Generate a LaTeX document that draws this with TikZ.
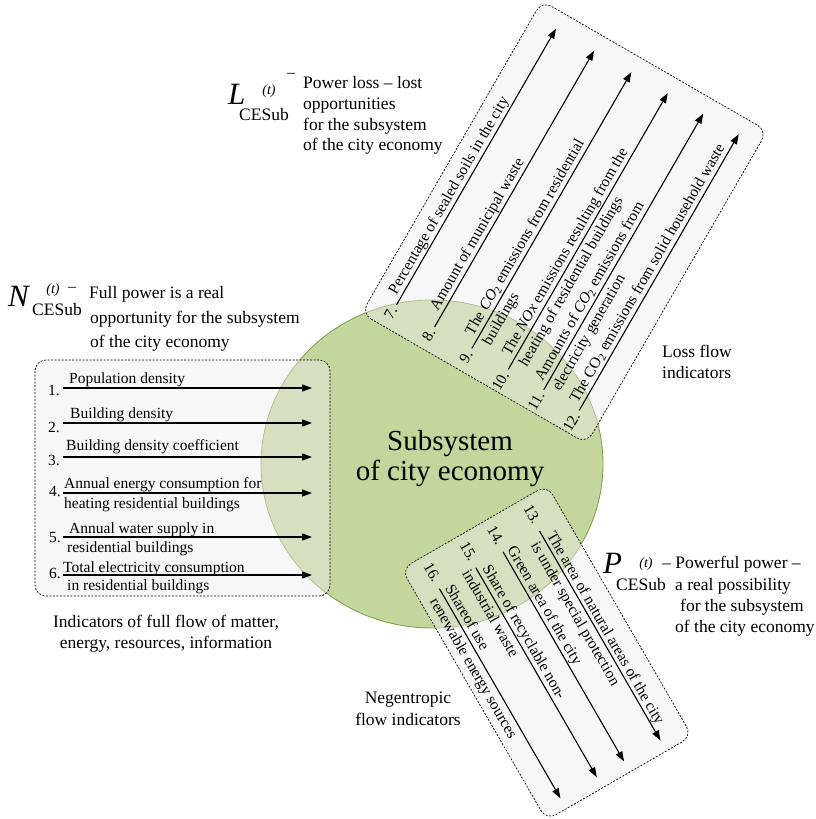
\documentclass[tikz,border=0pt]{standalone}
\usepackage{fontspec}
\setmainfont{Liberation Serif}
\usetikzlibrary{arrows.meta}
\definecolor{circfill}{HTML}{C3D69B}
\definecolor{circdraw}{HTML}{7E9A4A}
\definecolor{boxfill}{HTML}{EEEEEE}
\tikzset{
  flowbox/.style={draw=black, dash pattern=on 2pt off 1.5pt, line width=0.7pt,
    rounded corners=11pt, fill=boxfill, fill opacity=0.45},
  flowarrow/.style={-{Triangle[length=10pt,width=7pt]}, line width=1.1pt},
  lbl/.style={font=\fontsize{15.5}{18}\selectfont, inner sep=0pt, anchor=base west},
  num/.style={font=\fontsize{15.5}{18}\selectfont, inner sep=0pt, anchor=base east},
  big/.style={font=\fontsize{17.5}{21}\selectfont, inner sep=0pt, anchor=base west},
  bigc/.style={font=\fontsize{17.5}{21}\selectfont, inner sep=0pt, anchor=base},
  letter/.style={font=\fontsize{31}{34}\selectfont\itshape, inner sep=0pt, anchor=base west},
  supt/.style={font=\fontsize{14}{16}\selectfont\itshape, inner sep=0pt},
  dashsym/.style={font=\fontsize{16}{18}\selectfont, inner sep=0pt},
  sub/.style={font=\fontsize{17.5}{21}\selectfont, inner sep=0pt}
}
\begin{document}
\begin{tikzpicture}[x=1pt,y=1pt]
\useasboundingbox (0,0) rectangle (816,-819);

% central circle
\coordinate (core) at (432,-464);
\fill[circfill] (core) ellipse [x radius=171, y radius=164];
\draw[circdraw, line width=0.8pt] (core) ellipse [x radius=171, y radius=164];
\node[font=\fontsize{29}{32}\selectfont, inner sep=0pt, anchor=base] (title1) at (450,-450) {Subsystem};
\node[font=\fontsize{29}{32}\selectfont, inner sep=0pt, anchor=base] (title2) at (450,-480) {of city economy};

% ---------- left box ----------
\draw[flowbox] (35,-360) rectangle (330,-596);
\foreach \i/\y in {1/388,2/423,3/457,4/493,5/537,6/575}{
  \coordinate (ls\i) at (63,-\y);
  \coordinate (le\i) at (312,-\y);
  \draw[flowarrow] (ls\i) -- (le\i);
}
\node[num] (n1) at (60,-395) {1.};
\node[num] (n2) at (60,-432) {2.};
\node[num] (n3) at (60,-465) {3.};
\node[num] (n4) at (61,-496) {4.};
\node[num] (n5) at (61,-542) {5.};
\node[num] (n6) at (61,-578) {6.};
\node[lbl] (t1) at (69,-383) {Population density};
\node[lbl] (t2) at (70,-418) {Building density};
\node[lbl] (t3) at (66,-450) {Building density coefficient};
\node[lbl] (t4a) at (64,-488) {Annual energy consumption for};
\node[lbl] (t4b) at (64,-508) {heating residential buildings};
\node[lbl] (t5a) at (69,-533) {Annual water supply in};
\node[lbl] (t5b) at (67,-552) {residential buildings};
\node[lbl] (t6a) at (63,-572) {Total electricity consumption};
\node[lbl] (t6b) at (67,-590) {in residential buildings};

\node[bigc] (fl1) at (166,-627.5) {Indicators of full flow of matter,};
\node[bigc] (fl2) at (166,-648.5) {energy, resources, information};

% ---------- top (loss) box ----------
\begin{scope}[shift={(361.5,-313.5)}, rotate=60]
  \draw[flowbox] (0,0) rectangle (361,-260);
  \foreach \i/\y in {7/26,8/70,9/113,10/155,11/196,12/237}{
    \coordinate (ts\i) at (25,-\y);
    \coordinate (te\i) at (344,-\y);
    \draw[flowarrow] (ts\i) -- (te\i);
    \node[num, rotate=60] (tn\i) at (21,-\y-4) {\i.};
  }
  \node[lbl, rotate=60] (u7) at (33,-21) {Percentage of sealed soils in the city};
  \node[lbl, rotate=60] (u8) at (40,-65) {Amount of municipal waste};
  \node[lbl, rotate=60] (u9a) at (36,-108) {The \textit{CO}\textsubscript{2} emissions from residential};
  \node[lbl, rotate=60] (u9b) at (36,-128) {buildings};
  \node[lbl, rotate=60] (u10a) at (37,-150) {The \textit{NOx} emissions resulting from the};
  \node[lbl, rotate=60] (u10b) at (36,-170) {heating of residential buildings};
  \node[lbl, rotate=60] (u11a) at (31,-191) {Amounts of \textit{CO}\textsubscript{2} emissions from};
  \node[lbl, rotate=60] (u11b) at (31,-211) {electricity generation};
  \node[lbl, rotate=60] (u12) at (30,-232) {The CO\textsubscript{2} emissions from solid household waste};
\end{scope}

\node[big] (loss1) at (662,-357.5) {Loss flow};
\node[big] (loss2) at (662,-378.5) {indicators};

% ---------- bottom (negentropic) box ----------
\begin{scope}[shift={(547,-485)}, rotate=-60]
  \draw[flowbox] (0,0) rectangle (290,-168);
  \foreach \i/\y in {13/29.5,14/71.5,15/103,16/145}{
    \coordinate (bs\i) at (36,-\y);
    \coordinate (be\i) at (278,-\y);
    \draw[flowarrow] (bs\i) -- (be\i);
    \node[num, rotate=-60] (bn\i) at (28,-\y-3) {\i.};
  }
  \node[lbl, rotate=-60] (v13a) at (43,-25.5) {The area of natural areas of the city};
  \node[lbl, rotate=-60] (v13b) at (44,-44.5) {is under special protection};
  \node[lbl, rotate=-60] (v14) at (36,-67) {Green area of the city};
  \node[lbl, rotate=-60] (v15a) at (40,-98) {Share of recyclable non-};
  \node[lbl, rotate=-60] (v15b) at (34,-118) {industrial waste};
  \node[lbl, rotate=-60] (v16a) at (38,-140) {Shareof use};
  \node[lbl, rotate=-60] (v16b) at (42,-160) {renewable energy sources};
\end{scope}

\node[bigc] (neg1) at (408,-703.5) {Negentropic};
\node[bigc] (neg2) at (408,-725.5) {flow indicators};

% ---------- L label ----------
\node[letter] (Lsym) at (228,-104) {L};
\node[supt] (Lt) at (269,-91) {(t)};
\node[dashsym] (Ld) at (291,-75) {–};
\node[sub] (Lsub) at (264,-115) {CESub};
\node[big] (L1) at (303,-88.5) {Power loss – lost};
\node[big] (L2) at (303,-109) {opportunities};
\node[big] (L3) at (303,-130) {for the subsystem};
\node[big] (L4) at (303,-150.5) {of the city economy};

% ---------- N label ----------
\node[letter] (Nsym) at (8,-306) {N};
\node[supt] (Nt) at (53,-290) {(t)};
\node[dashsym] (Nd) at (72,-289) {–};
\node[sub] (Nsub) at (57,-310) {CESub};
\node[big] (N1) at (89,-298.5) {Full power is a real};
\node[big] (N2) at (90,-323.5) {opportunity for the subsystem};
\node[big] (N3) at (90,-347.5) {of the city economy};

% ---------- P label ----------
\node[letter] (Psym) at (603,-573) {P};
\node[supt] (Pt) at (646,-564) {(t)};
\node[big] (P1) at (662,-568.5) {– Powerful power –};
\node[sub] (Psub) at (641,-585) {CESub};
\node[big] (P2) at (675,-590) {a real possibility};
\node[big] (P3) at (680,-611) {for the subsystem};
\node[big] (P4) at (675,-632) {of the city economy};
\end{tikzpicture}
\end{document}
